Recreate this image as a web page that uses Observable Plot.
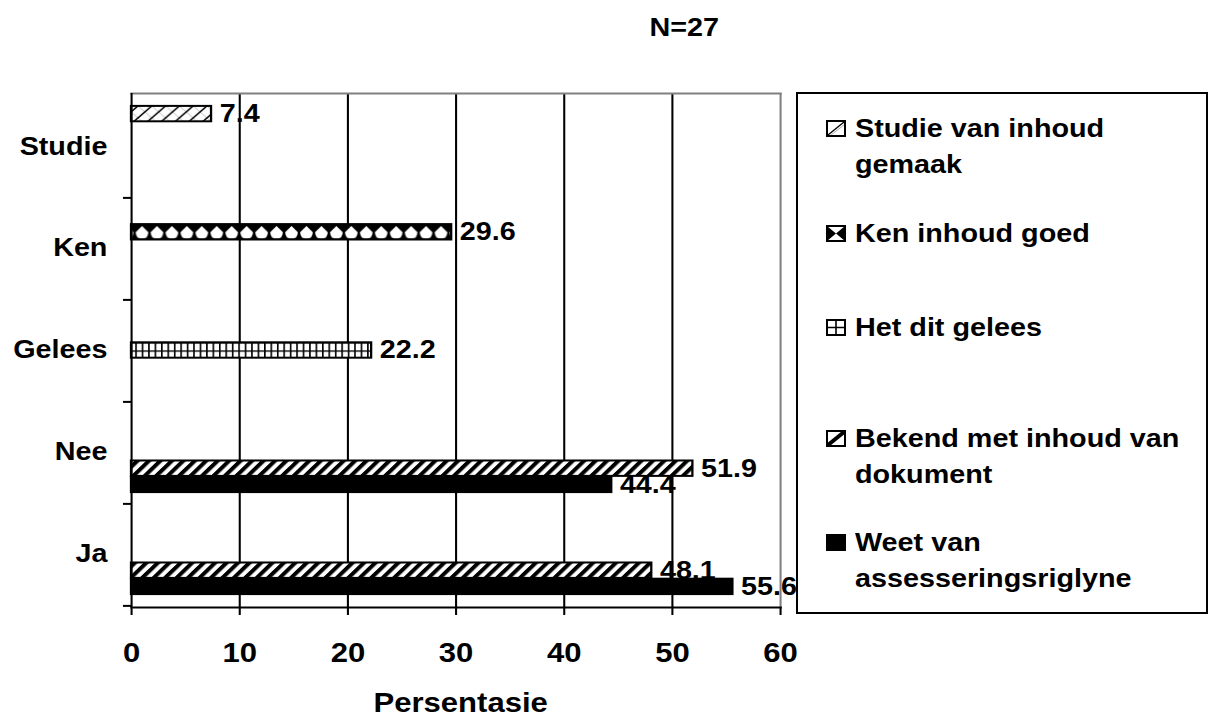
<!DOCTYPE html>
<html>
<head>
<meta charset="utf-8">
<script src="https://cdn.jsdelivr.net/npm/d3@7"></script>
<script src="https://cdn.jsdelivr.net/npm/@observablehq/plot@0.6"></script>
<style>
  body { margin: 0; background: #fff; }
  #wrap { position: relative; width: 1215px; height: 718px; font-family: "Liberation Sans", Arial, sans-serif; font-weight: bold; color: #000; overflow: hidden; }
  #title { position: absolute; left: 584px; width: 200px; top: 15px; text-align: center; font-size: 25px; line-height: 25px; }
  #title span { display: inline-block; transform: scaleX(1.15); transform-origin: center; }
  #chart { position: absolute; left: 0; top: 60px; transform: scaleX(1.15); transform-origin: 0 0; }
  #legend { position: absolute; box-sizing: border-box; left: 796px; top: 92px; width: 412px; height: 522px; border: 2px solid #000; background: #fff; }
  .item { position: absolute; left: 855px; font-size: 25px; line-height: 36px; white-space: nowrap; }
  .item span { display: inline-block; transform: scaleX(1.15); transform-origin: 0 50%; }
  .sw { position: absolute; left: 826px; width: 20px; height: 17px; }
</style>
</head>
<body>
<div id="wrap">
  <div id="title"></div>
  <div id="chart"></div>
  <div id="legend"></div>
</div>
<script>
// ---- data ----
const categories = ["Studie", "Ken", "Gelees", "Nee", "Ja"];
const seriesNames = ["Studie van inhoud gemaak", "Ken inhoud goed", "Het dit gelees", "Bekend met inhoud van dokument", "Weet van assesseringsriglyne"];
const legendLines = [["Studie van inhoud", "gemaak"], ["Ken inhoud goed"], ["Het dit gelees"], ["Bekend met inhoud van", "dokument"], ["Weet van", "assesseringsriglyne"]];
const studieValues = [7.4, null, null, null, null];
const kenValues = [null, 29.6, null, null, null];
const geleesValues = [null, null, 22.2, null, null];
const bekendValues = [null, null, null, 51.9, 48.1];
const weetValues = [null, null, null, 44.4, 55.6];
const xTicks = [0, 10, 20, 30, 40, 50, 60];
const gridTicks = [10, 20, 30, 40, 50];
const titleText = "N=27";
const xLabel = "Persentasie";

// ---- layout (chart is drawn narrower, then stretched horizontally by S) ----
const S = 1.15;
const W = 1215 / S, H = 658, mt = 33, mb = 111, ml = 131 / S, mr = W - 780 / S;
const band = (H - mt - mb) / categories.length;
const h = 16.2;
const start = (band - 5 * h) / 2;

const valueSets = [studieValues, kenValues, geleesValues, bekendValues, weetValues];
const fills = ["url(#p-studie)", "url(#p-ken)", "url(#p-gelees)", "url(#p-bekend)", "#000"];
const rowsFor = j => categories.map((c, i) => ({category: c, value: valueSets[j][i], series: seriesNames[j]})).filter(d => d.value != null);

const barMark = j => Plot.barX(rowsFor(j), {
  x: "value", y: "category", fill: fills[j], stroke: "#000", strokeWidth: 2,
  insetTop: start + j * h, insetBottom: band - start - (j + 1) * h
});
const labelMark = j => Plot.text(rowsFor(j), {
  x: "value", y: "category", text: d => d.value.toFixed(1),
  dx: 7, dy: start + j * h + h / 2 - band / 2, textAnchor: "start",
  fontSize: 25, fontWeight: "bold", fill: "#000"
});

const plot = Plot.plot({
  width: W, height: H,
  marginTop: mt, marginBottom: mb, marginLeft: ml, marginRight: mr,
  style: "font-family: 'Liberation Sans', Arial, sans-serif; font-weight: bold; font-size: 25px; color: #000; background: transparent; overflow: visible;",
  x: {domain: [0, 60], nice: false},
  y: {domain: categories, padding: 0},
  marks: [
    Plot.ruleX(gridTicks, {stroke: "#000", strokeWidth: 1.8}),
    Plot.ruleX([60], {stroke: "#808080", strokeWidth: 1.8}),
    Plot.frame({anchor: "top", stroke: "#808080", strokeWidth: 2}),
    barMark(0), barMark(1), barMark(2),
    labelMark(0), labelMark(1), labelMark(2),
    barMark(3), labelMark(3),
    barMark(4), labelMark(4),
    Plot.ruleX([0], {stroke: "#000", strokeWidth: 1.8}),
    Plot.frame({anchor: "bottom", stroke: "#000", strokeWidth: 2}),
    Plot.axisX({ticks: xTicks, tickSize: 8, tickPadding: 27, fontSize: 27, strokeWidth: 1.8, label: null}),
    Plot.axisY({tickSize: 0, tickPadding: 21, fontSize: 25, label: null}),
    Plot.axisY({tickSize: 7, fill: "none", dy: band / 2, strokeWidth: 2, label: null}),
    Plot.text([xLabel], {frameAnchor: "bottom", lineAnchor: "middle", dy: 96, dx: 4, fontSize: 27, fontWeight: "bold", fill: "#000"})
  ]
});

// ---- patterns aligned with the band scale ----
const yS = plot.scale("y");
const bandTop = c => (yS && yS.apply) ? yS.apply(c) : mt + categories.indexOf(c) * band;
const defs = d3.select(plot).insert("defs", ":first-child");

// Studie: thin diagonals
const ps = defs.append("pattern").attr("id", "p-studie").attr("patternUnits", "userSpaceOnUse")
  .attr("width", 12).attr("height", 12).attr("y", bandTop("Studie") + start);
ps.append("rect").attr("width", 12).attr("height", 12).attr("fill", "#fff");
ps.append("path").attr("d", "M0,0 L12,12").attr("stroke", "#aaa").attr("stroke-width", 0.7);
ps.append("path").attr("d", "M-1,13 L13,-1 M-7,7 L7,-7 M5,19 L19,5").attr("stroke", "#000").attr("stroke-width", 1.4);

// Ken: black with white drops
const pk = defs.append("pattern").attr("id", "p-ken").attr("patternUnits", "userSpaceOnUse")
  .attr("width", 13).attr("height", h).attr("y", bandTop("Ken") + start + h);
pk.append("rect").attr("width", 13).attr("height", h).attr("fill", "#000");
pk.append("path").attr("d", "M6.5,2 L12,8 Q12,14.5 6.5,14.5 Q1,14.5 1,8 Z").attr("fill", "#fff");

// Gelees: small grid
const pg = defs.append("pattern").attr("id", "p-gelees").attr("patternUnits", "userSpaceOnUse")
  .attr("width", 5.6).attr("height", h / 2).attr("y", bandTop("Gelees") + start + 2 * h);
pg.append("rect").attr("width", 5.6).attr("height", h / 2).attr("fill", "#fff");
pg.append("path").attr("d", `M0.7,0 V${h / 2} M0,0.75 H5.6`).attr("stroke", "#000").attr("stroke-width", 1.4);

// Bekend: wide diagonal stripes
const pb = defs.append("pattern").attr("id", "p-bekend").attr("patternUnits", "userSpaceOnUse")
  .attr("width", 7.4).attr("height", 7.4).attr("patternTransform", "rotate(42)");
pb.append("rect").attr("width", 7.4).attr("height", 7.4).attr("fill", "#fff");
pb.append("rect").attr("width", 3.7).attr("height", 7.4).attr("fill", "#000");

document.getElementById("chart").appendChild(plot);
d3.select("#title").append("span").text(titleText);

// ---- legend ----
const itemTops = [110, 215, 309, 420, 524];
const wrap = d3.select("#wrap");
const swatchDraw = [
  g => { g.append("rect").attr("x", 1).attr("y", 1).attr("width", 18).attr("height", 15).attr("fill", "#fff").attr("stroke", "#000").attr("stroke-width", 2);
         g.append("path").attr("d", "M2,15 L18,2").attr("stroke", "#000").attr("stroke-width", 1.3);
         g.append("path").attr("d", "M5,15 L18,5").attr("stroke", "#999").attr("stroke-width", 0.8); },
  g => { g.append("rect").attr("x", 1).attr("y", 1).attr("width", 18).attr("height", 15).attr("fill", "#fff").attr("stroke", "#000").attr("stroke-width", 2);
         g.append("path").attr("d", "M1,1 L10,8.5 L1,16 Z M19,1 L10,8.5 L19,16 Z").attr("fill", "#000"); },
  g => { g.append("rect").attr("x", 1).attr("y", 1).attr("width", 18).attr("height", 15).attr("fill", "#fff").attr("stroke", "#000").attr("stroke-width", 2);
         g.append("path").attr("d", "M10,1 V16 M1,8.5 H19").attr("stroke", "#000").attr("stroke-width", 1.6); },
  g => { g.append("rect").attr("x", 1).attr("y", 1).attr("width", 18).attr("height", 15).attr("fill", "#fff").attr("stroke", "#000").attr("stroke-width", 2);
         g.append("path").attr("d", "M2,15 L18,2").attr("stroke", "#000").attr("stroke-width", 4); },
  g => { g.append("rect").attr("x", 1).attr("y", 1).attr("width", 18).attr("height", 15).attr("fill", "#000").attr("stroke", "#000").attr("stroke-width", 2); }
];
legendLines.forEach((lines, j) => {
  const sw = wrap.append("svg").attr("class", "sw").attr("width", 20).attr("height", 17)
    .style("top", (itemTops[j] + 9.5) + "px");
  swatchDraw[j](sw);
  const it = wrap.append("div").attr("class", "item").style("top", itemTops[j] + "px");
  lines.forEach((ln, k) => {
    if (k > 0) it.append("br");
    it.append("span").text(ln);
  });
});
</script>
</body>
</html>
